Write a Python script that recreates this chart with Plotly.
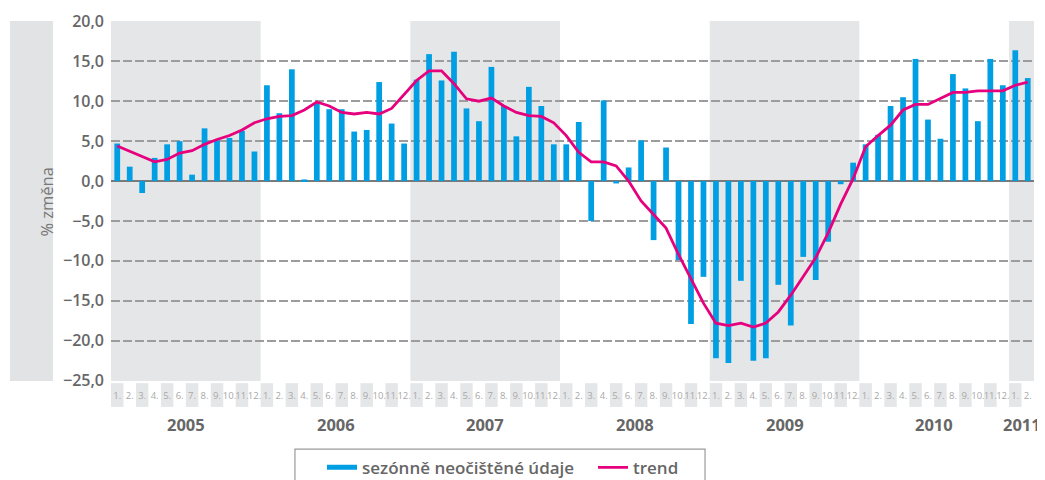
import plotly.graph_objects as go

# ---- data ----
years = ["2005", "2006", "2007", "2008", "2009", "2010", "2011"]
months_per_year = [12, 12, 12, 12, 12, 12, 2]
month_labels = [f"{m}." for n in months_per_year for m in range(1, n + 1)]

sezonne = [
    4.7, 1.8, -1.5, 2.9, 4.6, 5.0, 0.8, 6.6, 5.1, 5.4, 6.3, 3.7,      # 2005
    12.0, 8.5, 14.0, 0.2, 9.9, 9.0, 9.0, 6.2, 6.4, 12.4, 7.2, 4.7,    # 2006
    12.7, 15.9, 12.6, 16.2, 9.1, 7.5, 14.3, 9.4, 5.6, 11.8, 9.4, 4.6, # 2007
    4.6, 7.4, -5.0, 10.1, -0.3, 1.7, 5.1, -7.4, 4.2, -9.9, -17.9, -12.0,  # 2008
    -22.2, -22.8, -12.5, -22.5, -22.2, -13.0, -18.1, -9.5, -12.4, -7.6, -0.4, 2.3,  # 2009
    4.6, 5.8, 9.4, 10.5, 15.3, 7.7, 5.3, 13.4, 11.6, 7.5, 15.3, 12.0, # 2010
    16.4, 12.9,                                                       # 2011
]

trend = [
    4.4, 3.7, 3.0, 2.4, 2.7, 3.5, 3.8, 4.6, 5.2, 5.7, 6.4, 7.3,
    7.8, 8.1, 8.2, 8.9, 9.9, 9.4, 8.6, 8.4, 8.6, 8.4, 9.1, 10.8,
    12.6, 13.8, 13.8, 12.2, 10.3, 10.0, 10.4, 9.4, 8.6, 8.2, 8.1, 7.3,
    5.7, 3.6, 2.4, 2.4, 1.9, 0.0, -2.5, -4.2, -5.9, -9.2, -12.2, -15.3,
    -17.8, -18.1, -17.8, -18.3, -17.8, -16.4, -14.3, -11.9, -9.6, -6.5, -2.9, 0.3,
    4.3, 5.7, 7.0, 8.9, 9.6, 9.6, 10.3, 11.1, 11.1, 11.3, 11.3, 11.3,
    12.0, 12.4,
]

y_ticks = [20, 15, 10, 5, 0, -5, -10, -15, -20, -25]

x = list(range(len(month_labels)))

BLUE = "#009fe3"
PINK = "#e6007e"
GREY_BAND = "#e5e6e8"
TEXT = "#666666"
FONT = "Open Sans"

fig = go.Figure()
fig.add_trace(go.Bar(
    x=x, y=sezonne, name="sezónně neočištěné údaje", showlegend=False,
    legendgroup="s", marker=dict(color=BLUE, line=dict(width=0)), width=0.46,
))
# legend entry drawn as a flat bar, as in the original legend
fig.add_trace(go.Scatter(
    x=[None], y=[None], name="sezónně neočištěné údaje", legendgroup="s",
    mode="lines", line=dict(color=BLUE, width=5),
))
fig.add_trace(go.Scatter(
    x=x, y=trend, name="trend", mode="lines",
    line=dict(color=PINK, width=2.8),
))

shapes = []
# year bands (alternate years)
start = 0
for i, n in enumerate(months_per_year):
    if i % 2 == 0:
        shapes.append(dict(type="rect", xref="x", yref="paper",
                           x0=start - 0.5, x1=start + n - 0.5, y0=0, y1=1,
                           fillcolor=GREY_BAND, line=dict(width=0), layer="below"))
    start += n
# month label cells (odd months)
for i, lab in enumerate(month_labels):
    if int(lab[:-1]) % 2 == 1:
        shapes.append(dict(type="rect", xref="x", yref="paper",
                           x0=i - 0.5, x1=i + 0.5, y0=-0.006, y1=-0.072,
                           fillcolor=GREY_BAND, line=dict(width=0), layer="below"))
# y title box
shapes.append(dict(type="rect", xref="paper", yref="paper",
                   x0=-0.1094, x1=-0.0628, y0=0, y1=1,
                   fillcolor="#e2e3e5", line=dict(width=0), layer="below"))
# legend box
shapes.append(dict(type="rect", xref="paper", yref="paper",
                   x0=0.1993, x1=0.6436, y0=-0.189, y1=-0.34,
                   fillcolor="rgba(0,0,0,0)", line=dict(color="#9a9a9a", width=1.2)))

annotations = []
start = 0
for yr, n in zip(years, months_per_year):
    annotations.append(dict(x=start + (n - 1) / 2, y=-0.122, xref="x", yref="paper",
                            text=yr, showarrow=False, yanchor="middle",
                            font=dict(family=FONT, size=16.5, color=TEXT, weight="bold")))
    start += n
annotations.append(dict(x=-0.0845, y=0.497, xref="paper", yref="paper",
                        text="% změna", textangle=-90, showarrow=False,
                        font=dict(family=FONT, size=16.5, color="#777777", weight=500)))

# page body has an 8px default margin: figure is sized/placed to compensate
fig.update_layout(
    width=1037, height=472,
    margin=dict(l=103, r=11, t=13, b=99, autoexpand=False),
    paper_bgcolor="white", plot_bgcolor="white",
    separators=", ",
    bargap=0.54,
    shapes=shapes,
    annotations=annotations,
    showlegend=True,
    legend=dict(orientation="h", x=0.2286, xanchor="left", y=-0.241, yanchor="middle",
                font=dict(family=FONT, size=17, color=TEXT, weight=600),
                bgcolor="rgba(0,0,0,0)", itemwidth=30,
                entrywidth=226, entrywidthmode="pixels"),
    xaxis=dict(
        range=[-0.5, len(x) - 0.5],
        tickmode="array", tickvals=x, ticktext=month_labels,
        tickfont=dict(family=FONT, size=9.5, color="#a8a8a8"),
        showgrid=False, zeroline=False, showline=False, ticks="",
        ticklabelstandoff=7, tickangle=0,
    ),
    yaxis=dict(
        range=[-25.05, 20.05],
        tickmode="array", tickvals=y_ticks, tickformat=".1f",
        tickfont=dict(family=FONT, size=16, color=TEXT, weight=600),
        showgrid=True, gridcolor="#9c9c9c", gridwidth=1.5, griddash="9px,3px",
        zeroline=True, zerolinecolor="#7a7a7a", zerolinewidth=2,
        showline=False, ticks="", ticklabelstandoff=6,
    ),
)

fig.write_html("out.html")
